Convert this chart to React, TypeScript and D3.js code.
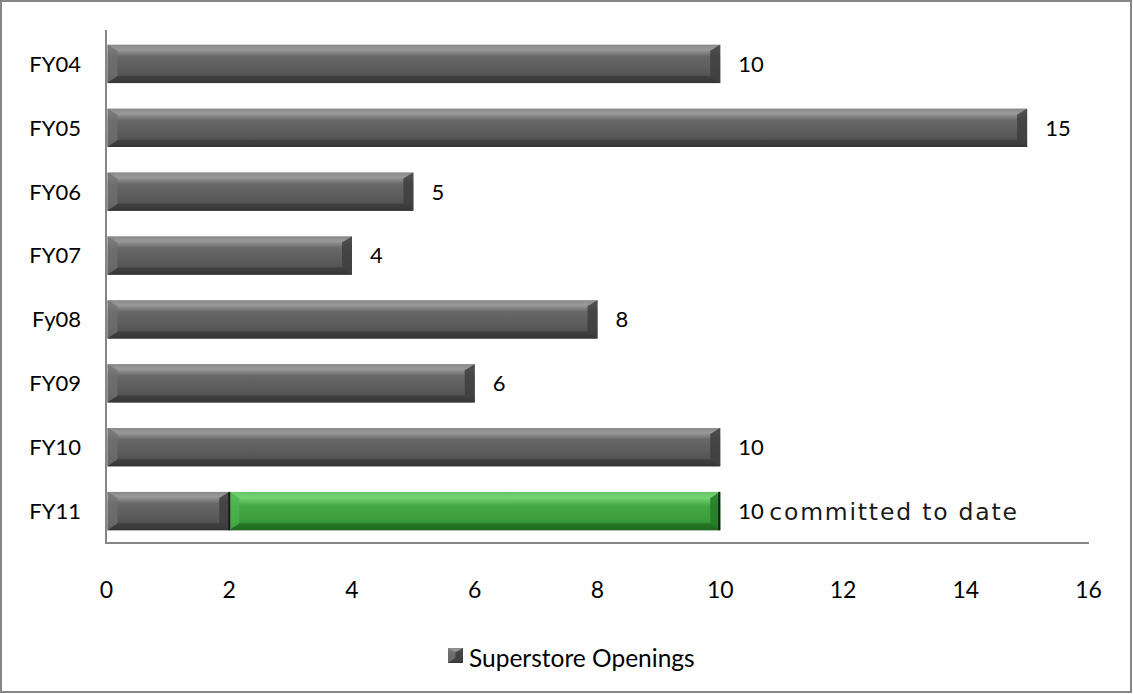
import React from "react";
import * as d3 from "d3";

const categories = ["FY04", "FY05", "FY06", "FY07", "Fy08", "FY09", "FY10", "FY11"];
const openings = [10, 15, 5, 4, 8, 6, 10, 2];
const committed = [0, 0, 0, 0, 0, 0, 0, 8];
const labels = ["10", "15", "5", "4", "8", "6", "10", "10"];
const extraLabel = ["", "", "", "", "", "", "", "committed to date"];
const xTicks = [0, 2, 4, 6, 8, 10, 12, 14, 16];
const legendLabel = "Superstore Openings";

const W = 1133;
const H = 694;
const FONT = "Lato, 'Open Sans', sans-serif";

function BevelBar({ x0, x1, y, h, kind }: { x0: number; x1: number; y: number; h: number; kind: "gray" | "green" }) {
  const b = Math.min(10, (x1 - x0) / 2);
  const g = kind === "gray";
  const base = g ? "url(#grayV)" : "url(#greenV)";
  const topC = g ? "#959595" : "#74d474";
  const botC = g ? "#383838" : "#1f6a1f";
  const leftC = g ? "#707070" : "#4cb44c";
  const rightC = g ? "#3e3e3e" : "#237a23";
  return (
    <g>
      <rect x={x0} y={y} width={x1 - x0} height={h} fill={base} />
      <polygon points={`${x0},${y} ${x1},${y} ${x1 - b},${y + b * 0.6} ${x0 + b},${y + b * 0.6}`} fill={topC} opacity={0.5} />
      <polygon points={`${x0},${y + h} ${x1},${y + h} ${x1 - b},${y + h - b * 0.7} ${x0 + b},${y + h - b * 0.7}`} fill={botC} opacity={0.65} />
      <polygon points={`${x0},${y} ${x0 + b},${y + b * 0.6} ${x0 + b},${y + h - b * 0.7} ${x0},${y + h}`} fill={leftC} opacity={0.75} />
      <polygon points={`${x1},${y} ${x1 - b},${y + b * 0.6} ${x1 - b},${y + h - b * 0.7} ${x1},${y + h}`} fill={rightC} opacity={0.85} />
      {!g && <line x1={x1 - 1} x2={x1 - 1} y1={y} y2={y + h} stroke="#1a1a1a" strokeWidth={2} />}
      {!g && <line x1={x0} x2={x0} y1={y} y2={y + h} stroke="#1a1a1a" strokeWidth={2} />}
    </g>
  );
}

export default function App() {
  const x = d3.scaleLinear().domain([0, 16]).range([106.5, 1088.5]);
  const y = d3.scaleBand<string>().domain(categories).range([32, 543]).paddingInner(0.4).paddingOuter(0.2);
  const bw = y.bandwidth();

  return (
    <svg width={W} height={H} style={{ position: "absolute", left: 0, top: 0, display: "block" }} fontFamily={FONT}>
      <defs>
        <linearGradient id="grayV" x1="0" y1="0" x2="0" y2="1">
          <stop offset="0" stopColor="#7c7c7c" />
          <stop offset="0.12" stopColor="#9c9c9c" />
          <stop offset="0.3" stopColor="#686868" />
          <stop offset="0.75" stopColor="#575757" />
          <stop offset="0.9" stopColor="#464646" />
          <stop offset="1" stopColor="#2e2e2e" />
        </linearGradient>
        <linearGradient id="greenV" x1="0" y1="0" x2="0" y2="1">
          <stop offset="0" stopColor="#58b858" />
          <stop offset="0.15" stopColor="#72d472" />
          <stop offset="0.35" stopColor="#46aa46" />
          <stop offset="0.75" stopColor="#3a9c3a" />
          <stop offset="0.9" stopColor="#2c802c" />
          <stop offset="1" stopColor="#1e5e1e" />
        </linearGradient>
      </defs>
      <rect x={0} y={0} width={W} height={H} fill="#ffffff" />
      <rect x={1} y={1} width={W - 3} height={H - 3} fill="none" stroke="#868686" strokeWidth={2} />

      {categories.map((c, i) => {
        const yy = y(c)!;
        const v = openings[i];
        const cm = committed[i];
        const end = v + cm;
        return (
          <g key={c}>
            <BevelBar x0={x(0) + 1} x1={x(v)} y={yy} h={bw} kind="gray" />
            {cm > 0 && <BevelBar x0={x(v)} x1={x(end)} y={yy} h={bw} kind="green" />}
            <text x={x(end) + 18} y={yy + bw / 2} dy="0.36em" fontSize={22} fill="#000">
              {labels[i]}
            </text>
            {extraLabel[i] && (
              <text
                x={x(end) + 49}
                y={yy + bw / 2}
                dy="0.36em"
                fontFamily="'DejaVu Sans', sans-serif"
                fontSize={23.5}
                letterSpacing={1.8}
                fill="#1a1a1a"
              >
                {extraLabel[i]}
              </text>
            )}
            <text x={81} y={yy + bw / 2} dy="0.36em" fontSize={22} textAnchor="end" fill="#000">
              {c}
            </text>
          </g>
        );
      })}

      <line x1={106} x2={106} y1={30} y2={544} stroke="#868686" strokeWidth={2} />
      <line x1={105} x2={1089} y1={543} y2={543} stroke="#868686" strokeWidth={2} />

      {xTicks.map((t) => (
        <text key={t} x={x(t)} y={590} dy="0.36em" fontSize={23} textAnchor="middle" fill="#000">
          {t}
        </text>
      ))}

      <BevelBar x0={448} x1={463} y={648} h={15} kind="gray" />
      <text x={469} y={658} dy="0.36em" fontSize={24.5} fill="#000">
        {legendLabel}
      </text>
    </svg>
  );
}
